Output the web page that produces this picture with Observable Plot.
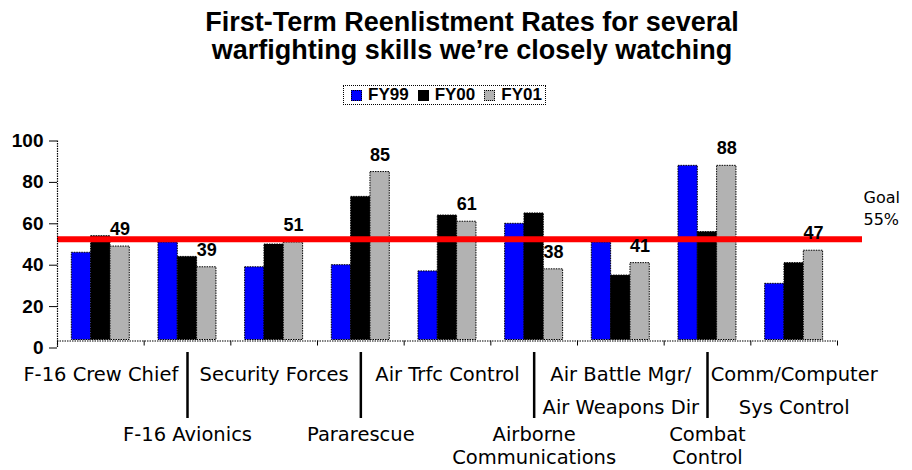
<!DOCTYPE html>
<html>
<head>
<meta charset="utf-8">
<script src="https://cdn.jsdelivr.net/npm/d3@7"></script>
<script src="https://cdn.jsdelivr.net/npm/@observablehq/plot@0.6"></script>
<style>
  html, body { margin: 0; padding: 0; background: #fff; }
  #wrap { position: relative; width: 912px; height: 470px; overflow: hidden; font-family: "Liberation Sans", Arial, sans-serif; color: #000; }
  #title { position: absolute; left: 0; top: 8px; width: 944px; text-align: center; font-weight: bold; font-size: 27px; line-height: 28px; }
  #legend { position: absolute; left: 343px; top: 85px; height: 18px; border: 1px dotted #000; display: flex; align-items: center; font-weight: bold; font-size: 17px; padding: 0 3px 0 7px; }
  #legend .item { display: flex; align-items: center; margin-right: 9px; }
  #legend .item:last-child { margin-right: 0; }
  #legend .sw { width: 9px; height: 9px; border: 1px dotted #000; margin-right: 6px; }
  #chart { position: absolute; left: 0; top: 110px; }
</style>
</head>
<body>
<div id="wrap">
  <div id="title">First-Term Reenlistment Rates for several<br>warfighting skills we’re closely watching</div>
  <div id="legend"></div>
  <div id="chart"></div>
</div>
<script>
// ---- data ----
const categories = [
  "F-16 Crew Chief",
  "F-16 Avionics",
  "Security Forces",
  "Pararescue",
  "Air Trfc Control",
  "Airborne\nCommunications",
  "Air Battle Mgr/\nAir Weapons Dir",
  "Combat\nControl",
  "Comm/Computer\nSys Control"
];
const seriesNames = ["FY99", "FY00", "FY01"];
const fy99 = [46, 51, 39, 40, 37, 60, 51, 88, 31];
const fy00 = [54, 44, 50, 73, 64, 65, 35, 56, 41];
const fy01 = [49, 39, 51, 85, 61, 38, 41, 88, 47];
const yTicks = [0, 20, 40, 60, 80, 100];
const goal = 52.5;
const goalLabel = "Goal\n55%";
const colors = ["#0000ff", "#000000", "#b2b2b2"];

// ---- build table ----
const values = [fy99, fy00, fy01];
const rows = categories.flatMap((c, ci) =>
  seriesNames.map((s, si) => ({cat: c, ci, s, si, v: values[si][ci]})));
const groupOffset = 0.165, barFrac = 0.223;
const bx1 = d => d.ci + groupOffset + d.si * barFrac;
const bx2 = d => d.ci + groupOffset + (d.si + 1) * barFrac;
const labelRows = rows.filter(d => d.s === "FY01");
const cats = categories.map((c, i) => ({c, i}));
const oddRow = cats.filter(d => d.i % 2 === 0);
const evenRow = cats.filter(d => d.i % 2 === 1);

// ---- legend ----
const legend = document.getElementById("legend");
seriesNames.forEach((s, i) => {
  const it = document.createElement("div");
  it.className = "item";
  it.innerHTML = `<span class="sw" style="background:${colors[i]}"></span><span>${s}</span>`;
  legend.appendChild(it);
});

// ---- chart ----
const chart = Plot.plot({
  width: 912,
  height: 360,
  marginTop: 30.5,
  marginBottom: 122.5,
  marginLeft: 57,
  marginRight: 75,
  style: {fontFamily: "Liberation Sans, Arial, sans-serif", color: "#000", background: "#fff"},
  x: {type: "linear", domain: [0, categories.length]},
  y: {domain: [0, 100]},
  color: {domain: seriesNames, range: colors},
  marks: [
    Plot.rect(rows, {
      x1: bx1, x2: bx2, y1: 0, y2: "v", fill: "s",
      stroke: "#000", strokeWidth: 1, strokeDasharray: "1.5 1", insetBottom: 8
    }),
    Plot.ruleY([goal], {stroke: "#ff0000", strokeWidth: 6, insetRight: -25}),
    Plot.text(labelRows, {
      x: d => (bx1(d) + bx2(d)) / 2, y: "v", text: d => String(d.v),
      lineAnchor: "bottom", dy: -11.5, fontSize: 18, fontWeight: "bold", fill: "#000"
    }),
    Plot.text([goalLabel], {
      frameAnchor: "right", y: () => goal, dx: 26, dy: -14, textAnchor: "start",
      lineAnchor: "bottom", fontSize: 16, lineHeight: 1.375, fontFamily: "DejaVu Sans", fill: "#000"
    }),
    // y axis
    Plot.ruleX([0], {stroke: "#000", strokeWidth: 1.2, strokeDasharray: "1.5 1"}),
    Plot.axisY({ticks: yTicks, tickSize: 8, tickPadding: 6, fontSize: 19, fontWeight: "bold", label: null}),
    // x axis baseline and category boundary ticks
    Plot.ruleY([0], {dy: -7, stroke: "#000", strokeWidth: 1.2, strokeDasharray: "1.5 1"}),
    Plot.axisX({ticks: d3.range(0, categories.length + 1), tickSize: 5, tickFormat: () => "", dy: -7, label: null}),
    // leader lines to the second label row
    Plot.axisX({ticks: evenRow.map(d => d.i + 0.5), tickSize: 66, tickFormat: () => "", dy: 4.5, strokeWidth: 2.5, label: null}),
    // category labels
    Plot.text(oddRow, {
      x: d => d.i + 0.5, frameAnchor: "bottom", lineAnchor: "top", dy: 10.5, text: "c",
      fontSize: 19.5, lineHeight: 1.65, fontFamily: "DejaVu Sans", fill: "#000"
    }),
    Plot.text(evenRow, {
      x: d => d.i + 0.5, frameAnchor: "bottom", lineAnchor: "top", dy: 77, text: "c",
      fontSize: 19.5, lineHeight: 1.18, fontFamily: "DejaVu Sans", fill: "#000"
    })
  ]
});
document.getElementById("chart").appendChild(chart);
</script>
</body>
</html>
